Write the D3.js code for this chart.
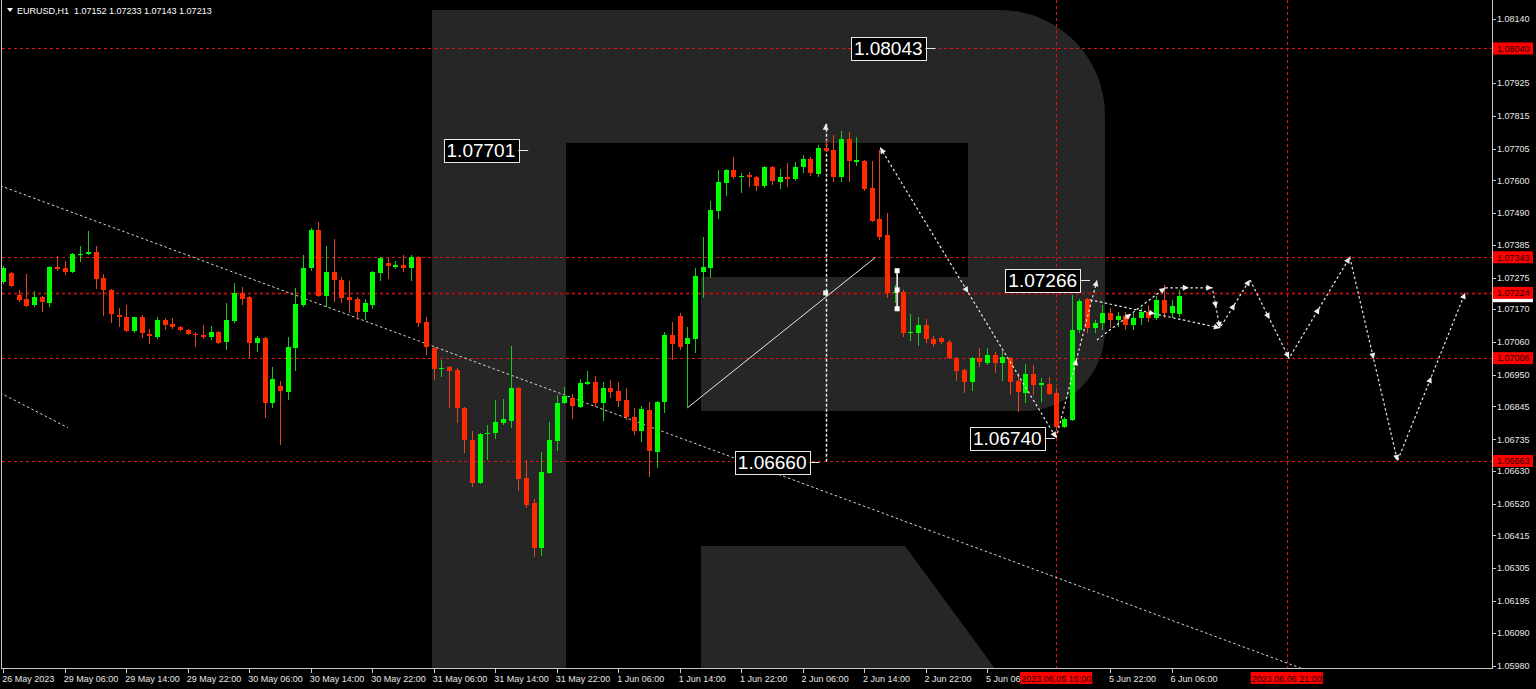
<!DOCTYPE html>
<html>
<head>
<meta charset="utf-8">
<script src="https://cdn.jsdelivr.net/npm/d3@7"></script>
<style>
  body { margin: 0; background: #000; }
  svg { display: block; }
  text { font-family: "Liberation Sans", Arial, sans-serif; }
</style>
</head>
<body>
<svg id="chart" width="1536" height="689"></svg>
<script>
// EURUSD H1 bars, [open, high, low, close], first bar = 26 May 22:00
var candles = [
  [1.07261,1.07315,1.07254,1.07308],[1.07291,1.07295,1.07244,1.07248],[1.07218,1.07234,1.07194,1.07201],
  [1.07204,1.07288,1.07178,1.07181],[1.07184,1.07231,1.07178,1.07211],[1.07211,1.07214,1.07161,1.07194],
  [1.07191,1.07315,1.07178,1.07311],[1.07311,1.07348,1.07298,1.07305],[1.07308,1.07331,1.07285,1.07295],
  [1.07295,1.07358,1.07291,1.07355],[1.07351,1.07381,1.07328,1.07355],[1.07355,1.07431,1.07351,1.07361],
  [1.07361,1.07381,1.07238,1.07271],[1.07274,1.07288,1.07148,1.07234],[1.07234,1.07238,1.07124,1.07154],
  [1.07151,1.07174,1.07111,1.07144],[1.07144,1.07184,1.07094,1.07097],[1.07097,1.07144,1.07091,1.07144],
  [1.07144,1.07151,1.07074,1.07091],[1.07087,1.07104,1.07054,1.07081],[1.07077,1.07144,1.07071,1.07134],
  [1.07134,1.07141,1.07101,1.07118],[1.07121,1.07141,1.07104,1.07111],[1.07111,1.07114,1.07097,1.07101],
  [1.07101,1.07104,1.07084,1.07087],[1.07087,1.07094,1.07044,1.07084],[1.07084,1.07118,1.07071,1.07077],
  [1.07077,1.07114,1.07067,1.07094],[1.07094,1.07097,1.07054,1.07057],[1.07061,1.07191,1.07034,1.07134],
  [1.07131,1.07258,1.07124,1.07224],[1.07224,1.07244,1.07184,1.07204],[1.07211,1.07214,1.07007,1.07057],
  [1.07057,1.07081,1.07027,1.07074],[1.07074,1.07077,1.06807,1.06857],[1.06857,1.06977,1.06840,1.06937],
  [1.06914,1.06930,1.06717,1.06897],[1.06894,1.07077,1.06867,1.07044],[1.07041,1.07241,1.06964,1.07188],
  [1.07184,1.07351,1.07178,1.07308],[1.07308,1.07442,1.07298,1.07435],[1.07435,1.07462,1.07211,1.07214],
  [1.07214,1.07381,1.07178,1.07295],[1.07295,1.07405,1.07194,1.07268],[1.07268,1.07278,1.07191,1.07208],
  [1.07211,1.07265,1.07158,1.07201],[1.07204,1.07211,1.07134,1.07161],[1.07161,1.07204,1.07134,1.07191],
  [1.07184,1.07298,1.07171,1.07295],[1.07291,1.07344,1.07265,1.07341],[1.07325,1.07341,1.07271,1.07315],
  [1.07311,1.07331,1.07305,1.07318],[1.07318,1.07351,1.07295,1.07308],[1.07308,1.07351,1.07265,1.07345],
  [1.07345,1.07348,1.07111,1.07124],[1.07128,1.07144,1.07017,1.07044],[1.07041,1.07044,1.06934,1.06971],
  [1.06971,1.07001,1.06944,1.06974],[1.06977,1.06981,1.06840,1.06964],[1.06967,1.06974,1.06790,1.06840],
  [1.06840,1.06844,1.06690,1.06733],[1.06733,1.06764,1.06576,1.06590],[1.06590,1.06757,1.06586,1.06753],
  [1.06753,1.06784,1.06667,1.06757],[1.06757,1.06867,1.06737,1.06794],[1.06790,1.06870,1.06784,1.06804],
  [1.06797,1.07047,1.06774,1.06907],[1.06907,1.06910,1.06563,1.06603],[1.06607,1.06667,1.06506,1.06516],
  [1.06523,1.06536,1.06343,1.06373],[1.06373,1.06693,1.06346,1.06627],[1.06623,1.06794,1.06620,1.06733],
  [1.06730,1.06884,1.06697,1.06857],[1.06857,1.06910,1.06854,1.06880],[1.06874,1.06887,1.06804,1.06847],
  [1.06844,1.06937,1.06840,1.06924],[1.06920,1.06964,1.06917,1.06927],[1.06927,1.06947,1.06844,1.06857],
  [1.06857,1.06927,1.06797,1.06907],[1.06907,1.06934,1.06874,1.06894],[1.06897,1.06927,1.06844,1.06864],
  [1.06867,1.06907,1.06800,1.06810],[1.06810,1.06840,1.06750,1.06764],[1.06764,1.06847,1.06727,1.06837],
  [1.06834,1.06860,1.06610,1.06697],[1.06693,1.06864,1.06640,1.06860],[1.06860,1.07094,1.06824,1.07084],
  [1.07084,1.07128,1.07001,1.07054],[1.07148,1.07158,1.07034,1.07044],[1.07054,1.07111,1.06844,1.07074],
  [1.07071,1.07308,1.07024,1.07281],[1.07295,1.07411,1.07208,1.07311],[1.07308,1.07532,1.07274,1.07502],
  [1.07498,1.07635,1.07472,1.07595],[1.07592,1.07639,1.07548,1.07635],[1.07635,1.07679,1.07605,1.07612],
  [1.07612,1.07625,1.07558,1.07615],[1.07619,1.07629,1.07578,1.07612],[1.07612,1.07615,1.07565,1.07582],
  [1.07582,1.07649,1.07575,1.07645],[1.07645,1.07649,1.07585,1.07599],[1.07595,1.07639,1.07572,1.07612],
  [1.07612,1.07659,1.07578,1.07605],[1.07605,1.07662,1.07599,1.07645],[1.07645,1.07685,1.07625,1.07672],
  [1.07672,1.07679,1.07615,1.07625],[1.07622,1.07719,1.07612,1.07709],[1.07709,1.07735,1.07695,1.07699],
  [1.07702,1.07752,1.07595,1.07612],[1.07612,1.07766,1.07595,1.07739],[1.07739,1.07762,1.07595,1.07665],
  [1.07662,1.07745,1.07649,1.07669],[1.07665,1.07669,1.07565,1.07572],[1.07575,1.07665,1.07462,1.07465],
  [1.07472,1.07702,1.07401,1.07411],[1.07418,1.07492,1.07208,1.07224],[1.07224,1.07251,1.07191,1.07228],
  [1.07228,1.07234,1.07077,1.07091],[1.07091,1.07154,1.07064,1.07094],[1.07091,1.07144,1.07047,1.07118],
  [1.07118,1.07138,1.07057,1.07071],[1.07071,1.07081,1.07044,1.07054],[1.07074,1.07077,1.07054,1.07061],
  [1.07061,1.07067,1.07004,1.07007],[1.07007,1.07011,1.06930,1.06964],[1.06967,1.06971,1.06890,1.06927],
  [1.06927,1.07011,1.06897,1.07007],[1.07007,1.07041,1.06977,1.06994],[1.06991,1.07041,1.06984,1.07017],
  [1.07017,1.07027,1.06957,1.06991],[1.06991,1.07031,1.06930,1.07011],[1.07007,1.07011,1.06884,1.06927],
  [1.06930,1.06957,1.06827,1.06894],[1.06890,1.06987,1.06857,1.06954],[1.06954,1.06984,1.06884,1.06917],
  [1.06917,1.06941,1.06860,1.06924],[1.06920,1.06944,1.06884,1.06887],[1.06890,1.06907,1.06764,1.06777],
  [1.06777,1.06810,1.06774,1.06804],[1.06800,1.07218,1.06797,1.07101],[1.07101,1.07204,1.07091,1.07198],
  [1.07204,1.07208,1.07091,1.07107],[1.07107,1.07134,1.07091,1.07124],[1.07124,1.07184,1.07101,1.07158],
  [1.07158,1.07174,1.07107,1.07134],[1.07134,1.07161,1.07111,1.07148],[1.07148,1.07161,1.07101,1.07118],
  [1.07118,1.07158,1.07101,1.07141],[1.07141,1.07174,1.07118,1.07161],[1.07161,1.07184,1.07128,1.07141],
  [1.07141,1.07214,1.07134,1.07201],[1.07201,1.07251,1.07141,1.07158],[1.07158,1.07201,1.07141,1.07181],
  [1.07152,1.07233,1.07143,1.07213]
];

var timeTickBars = [0, 8, 16, 24, 32, 40, 48, 56, 64, 72, 80, 88, 96, 104, 112, 120, 128, 144, 152];
var timeTickLabels = ["26 May 2023", "29 May 06:00", "29 May 14:00", "29 May 22:00", "30 May 06:00",
  "30 May 14:00", "30 May 22:00", "31 May 06:00", "31 May 14:00", "31 May 22:00", "1 Jun 06:00",
  "1 Jun 14:00", "1 Jun 22:00", "2 Jun 06:00", "2 Jun 14:00", "2 Jun 22:00", "5 Jun 06:00",
  "5 Jun 22:00", "6 Jun 06:00"];

var priceTicks = [1.08140, 1.07925, 1.07815, 1.07705, 1.07600, 1.07490, 1.07385, 1.07275,
  1.07170, 1.07060, 1.06950, 1.06845, 1.06735, 1.06630, 1.06520, 1.06415, 1.06305, 1.06195, 1.06090, 1.05980];

// horizontal levels (red dashed) and the bid
var levelPrices = [1.08040, 1.07343, 1.07224, 1.07006, 1.06663];
var bidPrice = 1.07213;

// vertical time marks
var markBars = [137, 167];
var markLabels = ["2023.06.05 15:00", "2023.06.06 21:00"];

// price notes drawn on the chart
var noteTexts = ["1.08043", "1.07701", "1.06660", "1.06740", "1.07266"];
var noteBars = [121.3, 68.3, 106.2, 136.8, 141.4];
var notePrices = [1.08043, 1.07701, 1.06660, 1.06740, 1.07266];

// trend lines
var trendBars = [0, 160], trendPrices = [1.07578, 1.06055];
var shortBars = [-0.4, 8.4], shortPrices = [1.06890, 1.06774];
var solidBars = [89, 113.5], solidPrices = [1.06840, 1.07343];
var vLineBar = 107, vLinePrices = [1.07789, 1.06660];

// forecast paths (each segment gets an arrow at its end and one half way)
var fcDownBars = [114.1, 137], fcDownPrices = [1.07709, 1.06740];
var fcUpBars = [137, 142.3], fcUpPrices = [1.06740, 1.07266];
var fcTopBars = [141.4, 158.3], fcTopPrices = [1.07201, 1.07107];
var fcLowBars = [142.3, 151.2], fcLowPrices = [1.07067, 1.07241];
var fcZigBars = [151.2, 157.3, 158.3, 162.2, 167.3, 175.2, 181.4, 190.2];
var fcZigPrices = [1.07241, 1.07241, 1.07107, 1.07268, 1.07006, 1.07343, 1.06663, 1.07224];

var handleBar = 116.3, handlePrices = [1.07298, 1.07234, 1.07171];

var W = 1536, H = 689;
var plotR = 1492, plotB = 668;

var svg = d3.select('#chart');

var x = d3.scaleLinear().domain([0, 193.7]).range([3.3, plotR]);
var y = d3.scaleLinear().domain([1.05980, 1.08140]).range([665.5, 18.5]);

svg.append('rect').attr('width', W).attr('height', H).attr('fill', '#000');

svg.append('defs').append('clipPath').attr('id', 'plot')
  .append('rect').attr('x', 2).attr('y', 0).attr('width', plotR - 2).attr('height', plotB);

var plot = svg.append('g').attr('clip-path', 'url(#plot)');

// watermark logo
plot.append('path')
  .attr('d', 'M432,10 H1000 A105,105 0 0 1 1105,115 V330 A81,81 0 0 1 1024,411 H701 V277 H968 V143 H566 V689 H432 Z')
  .attr('fill', '#262626');
plot.append('path')
  .attr('d', 'M701,546 H905 L1010,689 H701 Z')
  .attr('fill', '#262626');

// red level lines
plot.selectAll('.level').data(levelPrices).enter().append('line')
  .attr('x1', 2).attr('x2', plotR)
  .attr('y1', function(d) { return Math.round(y(d)) + 0.5; })
  .attr('y2', function(d) { return Math.round(y(d)) + 0.5; })
  .attr('stroke', function(d, i) { return i == 2 ? '#b40c0c' : '#e01414'; })
  .attr('stroke-width', function(d, i) { return i == 2 ? 2 : 1; })
  .attr('stroke-dasharray', '3,3');

plot.selectAll('.mark').data(markBars).enter().append('line')
  .attr('x1', function(d) { return Math.round(x(d)) + 0.5; })
  .attr('x2', function(d) { return Math.round(x(d)) + 0.5; })
  .attr('y1', 0).attr('y2', plotB)
  .attr('stroke', '#e01414')
  .attr('stroke-dasharray', '3,3');

// white trend lines
function extend(bars, prices, b) {
  var k = (prices[1] - prices[0]) / (bars[1] - bars[0]);
  return prices[0] + k * (b - bars[0]);
}
plot.append('line')
  .attr('x1', x(-1)).attr('y1', y(extend(trendBars, trendPrices, -1)))
  .attr('x2', x(200)).attr('y2', y(extend(trendBars, trendPrices, 200)))
  .attr('stroke', '#d8d8d8').attr('stroke-dasharray', '2.5,2.5');
plot.append('line')
  .attr('x1', x(shortBars[0])).attr('y1', y(shortPrices[0]))
  .attr('x2', x(shortBars[1])).attr('y2', y(shortPrices[1]))
  .attr('stroke', '#d8d8d8').attr('stroke-dasharray', '2.5,2.5');
plot.append('line')
  .attr('x1', x(solidBars[0])).attr('y1', y(solidPrices[0]))
  .attr('x2', x(solidBars[1])).attr('y2', y(solidPrices[1]))
  .attr('stroke', '#e8e8e8').attr('stroke-width', 1);
plot.append('line')
  .attr('x1', Math.round(x(vLineBar)) + 0.5).attr('x2', Math.round(x(vLineBar)) + 0.5)
  .attr('y1', y(vLinePrices[0])).attr('y2', y(vLinePrices[1]))
  .attr('stroke', '#e8e8e8').attr('stroke-width', 1.5).attr('stroke-dasharray', '3,2');

// candles
var bull = '#00ff00', bullWick = '#19c819', bear = '#ff2a00', bearWick = '#e0461c';
var bars = plot.selectAll('.bar').data(candles).enter().append('g')
  .attr('class', 'bar')
  .attr('shape-rendering', 'crispEdges');
bars.append('line')
  .attr('x1', function(d, i) { return Math.round(x(i)) + 0.5; })
  .attr('x2', function(d, i) { return Math.round(x(i)) + 0.5; })
  .attr('y1', function(d) { return y(d[1]); })
  .attr('y2', function(d) { return y(d[2]); })
  .attr('stroke', function(d) { return d[3] >= d[0] ? bullWick : bearWick; });
bars.append('rect')
  .attr('x', function(d, i) { return Math.round(x(i)) - 2; })
  .attr('width', 5)
  .attr('y', function(d) { return y(Math.max(d[0], d[3])); })
  .attr('height', function(d) { return Math.max(1, Math.abs(y(d[0]) - y(d[3]))); })
  .attr('fill', function(d) { return d[3] >= d[0] ? bull : bear; });

// forecast dotted paths
var fcLine = d3.line().x(function(d) { return x(d[0]); }).y(function(d) { return y(d[1]); });
function pts(b, p) { return b.map(function(v, i) { return [v, p[i]]; }); }
var forecasts = [pts(fcDownBars, fcDownPrices), pts(fcUpBars, fcUpPrices), pts(fcTopBars, fcTopPrices),
  pts(fcLowBars, fcLowPrices), pts(fcZigBars, fcZigPrices)];
plot.selectAll('.fc').data(forecasts).enter().append('path')
  .attr('d', fcLine)
  .attr('fill', 'none')
  .attr('stroke', '#e8e8e8')
  .attr('stroke-width', 1.2)
  .attr('stroke-dasharray', '2.5,2.5');

// little arrow heads: end of every segment and half way along it
var heads = [];
forecasts.forEach(function(f) {
  for (var i = 1; i < f.length; i++) {
    var a = f[i - 1], b = f[i];
    heads.push([a, b]);
    heads.push([a, [(a[0] + b[0]) / 2, (a[1] + b[1]) / 2]]);
  }
});
heads.push([[vLineBar, vLinePrices[1]], [vLineBar, vLinePrices[0]]]);
heads.push([[fcDownBars[1], fcDownPrices[1]], [fcDownBars[0], fcDownPrices[0]]]);
plot.selectAll('.head').data(heads).enter().append('path')
  .attr('d', 'M0,0 L-6,-3 L-6,3 Z')
  .attr('fill', '#f0f0f0')
  .attr('transform', function(d) {
    var x0 = x(d[0][0]), y0 = y(d[0][1]), x1 = x(d[1][0]), y1 = y(d[1][1]);
    var a = Math.atan2(y1 - y0, x1 - x0) * 180 / Math.PI;
    return 'translate(' + x1 + ',' + y1 + ') rotate(' + a + ')';
  });

// small square where solid line crosses the vertical line
plot.append('rect')
  .attr('x', x(vLineBar) - 2.5).attr('y', y(levelPrices[2]) - 2.5)
  .attr('width', 5).attr('height', 5).attr('fill', '#f0f0f0');

// selected object handle
plot.append('line')
  .attr('x1', x(handleBar)).attr('x2', x(handleBar))
  .attr('y1', y(handlePrices[0])).attr('y2', y(handlePrices[2]))
  .attr('stroke', '#fff').attr('stroke-width', 1.5);
plot.selectAll('.hdl').data(handlePrices).enter().append('rect')
  .attr('x', x(handleBar) - 2.5).attr('y', function(d) { return y(d) - 2.5; })
  .attr('width', 5).attr('height', 5).attr('fill', '#fff');

// price notes
var notes = plot.selectAll('.note').data(noteTexts).enter().append('g');
notes.each(function(t, i) {
  var g = d3.select(this);
  var ax = x(noteBars[i]), ay = y(notePrices[i]);
  var txt = g.append('text')
    .attr('y', ay + 7).attr('font-size', 19).attr('fill', '#fff').text(t);
  var w = txt.node().getComputedTextLength();
  var left = ax - 10 - w - 6;
  g.insert('rect', 'text')
    .attr('x', Math.round(left) + 0.5).attr('y', Math.round(ay - 11) + 0.5)
    .attr('width', Math.round(w + 6)).attr('height', 23)
    .attr('fill', '#000').attr('stroke', '#e8e8e8');
  txt.attr('x', left + 3);
  g.append('line')
    .attr('x1', left + w + 6).attr('x2', ax)
    .attr('y1', Math.round(ay) + 0.5).attr('y2', Math.round(ay) + 0.5)
    .attr('stroke', '#e8e8e8');
});

// frame
var frame = svg.append('g').attr('shape-rendering', 'crispEdges');
frame.append('line').attr('x1', 1.5).attr('x2', 1.5).attr('y1', 0).attr('y2', plotB).attr('stroke', '#c8c8c8');
frame.append('line').attr('x1', plotR + 0.5).attr('x2', plotR + 0.5).attr('y1', 0).attr('y2', plotB + 1).attr('stroke', '#c8c8c8');
frame.append('line').attr('x1', 1).attr('x2', plotR + 1).attr('y1', plotB + 0.5).attr('y2', plotB + 0.5).attr('stroke', '#c8c8c8');

// price axis
var pAxis = svg.append('g');
pAxis.selectAll('.pt').data(priceTicks).enter().append('line')
  .attr('x1', plotR).attr('x2', plotR + 4)
  .attr('y1', function(d) { return Math.round(y(d)) + 0.5; })
  .attr('y2', function(d) { return Math.round(y(d)) + 0.5; })
  .attr('stroke', '#c8c8c8');
pAxis.selectAll('.pl').data(priceTicks).enter().append('text')
  .attr('x', plotR + 5).attr('y', function(d) { return y(d) + 3.3; })
  .attr('font-size', 9).attr('fill', '#e6e6e6')
  .text(function(d) { return d.toFixed(5); });

// bid box (its text sits hidden under the 1.07224 label) then level labels on top
pAxis.append('rect')
  .attr('x', plotR + 1).attr('y', y(bidPrice) - 6).attr('width', 40).attr('height', 12)
  .attr('fill', '#fff');
var lv = pAxis.selectAll('.lv').data(levelPrices).enter().append('g');
lv.append('rect')
  .attr('x', plotR + 1).attr('y', function(d) { return y(d) - 6; })
  .attr('width', 40).attr('height', 12).attr('fill', '#ff0000');
lv.append('text')
  .attr('x', plotR + 5).attr('y', function(d) { return y(d) + 3.3; })
  .attr('font-size', 9).attr('fill', '#200000')
  .text(function(d) { return d.toFixed(5); });

// time axis
var tAxis = svg.append('g');
tAxis.selectAll('.tt').data(timeTickBars).enter().append('line')
  .attr('x1', function(d) { return Math.round(x(d)) + 0.5; })
  .attr('x2', function(d) { return Math.round(x(d)) + 0.5; })
  .attr('y1', plotB).attr('y2', plotB + 5)
  .attr('stroke', '#c8c8c8');
tAxis.selectAll('.tl').data(timeTickLabels).enter().append('text')
  .attr('x', function(d, i) { return x(timeTickBars[i]) - 1; })
  .attr('y', 682)
  .attr('font-size', 9).attr('fill', '#e6e6e6')
  .text(function(d) { return d; });
var mk = tAxis.selectAll('.mk').data(markLabels).enter().append('g');
mk.append('rect')
  .attr('x', function(d, i) { return x(markBars[i]) - 36; })
  .attr('y', 672).attr('width', 72).attr('height', 12)
  .attr('fill', '#ff0000');
mk.append('text')
  .attr('x', function(d, i) { return x(markBars[i]); })
  .attr('y', 681.5).attr('text-anchor', 'middle')
  .attr('font-size', 9).attr('fill', '#200000')
  .text(function(d) { return d; });

// title
svg.append('path').attr('d', 'M7,8 L13,8 L10,12 Z').attr('fill', '#fff');
svg.append('text').attr('x', 17).attr('y', 14).attr('font-size', 9).attr('fill', '#fff')
  .attr('xml:space', 'preserve')
  .text('EURUSD,H1  1.07152 1.07233 1.07143 1.07213');
</script>
</body>
</html>
